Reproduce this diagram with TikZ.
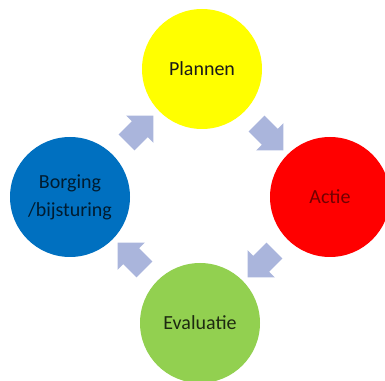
\documentclass[tikz,border=0pt]{standalone}
\usepackage{fontspec}
\setmainfont{Carlito}
\usetikzlibrary{calc,shapes.arrows}
\definecolor{plangeel}{RGB}{255,255,0}
\definecolor{actierood}{RGB}{255,0,0}
\definecolor{borgblauw}{RGB}{0,112,192}
\definecolor{evalgroen}{RGB}{146,208,80}
\definecolor{pijlkleur}{RGB}{170,181,220}
\tikzset{
    phase/.style = {circle, minimum size=120pt, inner sep=0pt, align=center,
        font=\fontsize{20}{28}\selectfont},
    pijl/.style = {single arrow, fill=pijlkleur, draw=none,
        minimum height=38pt, inner xsep=0pt, inner ysep=11pt,
        single arrow head extend=8pt, single arrow tip angle=90}
}

\begin{document}
\begin{tikzpicture}[x=1pt, y=1pt]
        \useasboundingbox (0,0) rectangle (385,380);
        \node [coordinate, name=mid] at (200,183) {};
        \node [phase, fill=plangeel, text=black!90, above of=mid, node distance=128pt, xshift=2pt, name=plan] {Plannen};
        \node [phase, fill=actierood, text=black!55!red, right of=mid, node distance=130pt, name=actie] {Actie};
        \node [phase, fill=evalgroen, text=black!80!evalgroen, below of=mid, node distance=126pt, name=eval] {Evaluatie};
        \node [phase, fill=borgblauw, text=black!75!borgblauw, left of=mid, node distance=130pt, name=borg] {Borging\\/bijsturing};
        % block arrows halfway between neighbouring phases
        \node [pijl, rotate=45] (p1) at ($(borg)!0.5!(plan)$) {};
        \node [pijl, rotate=-45] (p2) at ($(plan)!0.5!(actie)$) {};
        \node [pijl, rotate=-135] (p3) at ($(actie)!0.5!(eval)$) {};
        \node [pijl, rotate=135] (p4) at ($(eval)!0.5!(borg)$) {};
\end{tikzpicture}
\end{document}
